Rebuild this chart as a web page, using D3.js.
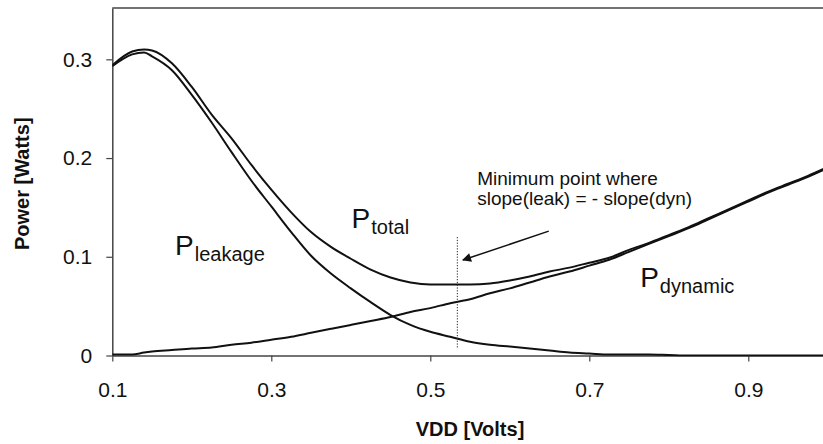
<!DOCTYPE html>
<html>
<head>
<meta charset="utf-8">
<script src="https://cdn.jsdelivr.net/npm/d3@7"></script>
<style>
  html, body { margin: 0; padding: 0; background: #fff; }
  svg { display: block; }
  text { font-family: "Liberation Sans", Arial, sans-serif; fill: #111; }
</style>
</head>
<body>
<svg id="chart" width="823" height="444"></svg>
<script>
// ---- Data ----
const vdd = [0.100,0.125,0.140,0.150,0.175,0.200,0.225,0.250,0.275,0.300,0.325,0.350,0.375,0.400,0.425,0.450,0.475,0.500,0.525,0.550,0.575,0.600,0.625,0.650,0.675,0.700,0.725,0.750,0.775,0.800,0.825,0.850,0.875,0.900,0.925,0.950,0.975,1.000];
const leakage = [0.293,0.305,0.307,0.303,0.289,0.264,0.236,0.206,0.177,0.151,0.125,0.101,0.083,0.068,0.054,0.041,0.031,0.024,0.019,0.014,0.011,0.009,0.007,0.005,0.003,0.002,0.001,0.001,0.001,0.0005,0,0,0,0,0,0,0,0];
const dynamic = [0.001,0.001,0.003,0.004,0.0055,0.007,0.008,0.011,0.013,0.016,0.019,0.023,0.027,0.031,0.035,0.039,0.044,0.048,0.053,0.057,0.063,0.068,0.074,0.080,0.085,0.091,0.097,0.105,0.113,0.121,0.129,0.138,0.147,0.156,0.165,0.173,0.181,0.190];
const total = [0.294,0.308,0.310,0.309,0.296,0.272,0.244,0.220,0.193,0.168,0.145,0.125,0.110,0.098,0.087,0.079,0.074,0.072,0.072,0.072,0.073,0.076,0.080,0.085,0.089,0.094,0.099,0.107,0.114,0.122,0.130,0.139,0.148,0.157,0.166,0.174,0.182,0.191];

const xTicks = [0.1, 0.3, 0.5, 0.7, 0.9];
const xTickLabels = ["0.1", "0.3", "0.5", "0.7", "0.9"];
const yTicks = [0, 0.1, 0.2, 0.3];
const yTickLabels = ["0", "0.1", "0.2", "0.3"];

const xDomain = [0.1, 1.0];
const yDomain = [0, 0.352];
const minVdd = 0.534;   // vertical marker at the minimum point

// ---- Layout ----
const svg = d3.select("#chart");
const x = d3.scaleLinear().domain(xDomain).range([112.3, 827.8]);
const y = d3.scaleLinear().domain(yDomain).range([355.5, 8]);

// frame (top border)
svg.append("line")
  .attr("x1", x(xDomain[0])).attr("x2", x(xDomain[1]))
  .attr("y1", y(yDomain[1])).attr("y2", y(yDomain[1]))
  .attr("stroke", "#444").attr("stroke-width", 1.5);

// axes
const xAxis = d3.axisBottom(x).tickValues(xTicks)
  .tickFormat((d, i) => xTickLabels[i]).tickSize(6).tickSizeOuter(0).tickPadding(21);
const yAxis = d3.axisLeft(y).tickValues(yTicks)
  .tickFormat((d, i) => yTickLabels[i]).tickSize(6).tickSizeOuter(0).tickPadding(14);

const gx = svg.append("g").attr("transform", `translate(0,${y(0)})`).call(xAxis);
const gy = svg.append("g").attr("transform", `translate(${x(xDomain[0])},0)`).call(yAxis);
[gx, gy].forEach(g => {
  g.select(".domain").attr("stroke", "#444").attr("stroke-width", 1.5);
  g.selectAll(".tick line").attr("stroke", "#444").attr("stroke-width", 1.2);
  g.selectAll(".tick text").attr("font-size", 21)
    .attr("font-family", "'Liberation Sans', Arial, sans-serif").attr("fill", "#111");
});

// axis titles
svg.append("text")
  .attr("x", (x.range()[0] + x.range()[1]) / 2).attr("y", 436)
  .attr("text-anchor", "middle").attr("font-size", 20).attr("font-weight", "bold")
  .text("VDD [Volts]");
svg.append("text")
  .attr("transform", `translate(29,${(y.range()[0] + y.range()[1]) / 2 + 2}) rotate(-90)`)
  .attr("text-anchor", "middle").attr("font-size", 20).attr("font-weight", "bold")
  .text("Power [Watts]");

// curves
svg.append("clipPath").attr("id", "plotclip")
  .append("rect").attr("x", x(xDomain[0])).attr("y", y(yDomain[1]))
  .attr("width", x(xDomain[1]) - x(xDomain[0])).attr("height", y(0) - y(yDomain[1]) + 1);

const line = d3.line().x(d => x(d[0])).y(d => y(d[1])).curve(d3.curveMonotoneX);
const series = [leakage, dynamic, total];
svg.append("g").attr("clip-path", "url(#plotclip)")
  .selectAll("path").data(series).join("path")
  .attr("d", s => line(vdd.map((v, i) => [v, s[i]])))
  .attr("fill", "none").attr("stroke", "#111").attr("stroke-width", 2)
  .attr("stroke-linejoin", "round");

// subscript labels
function subLabel(px, py, main, sub) {
  const t = svg.append("text").attr("x", x(px)).attr("y", y(py)).attr("font-size", 28);
  t.append("tspan").text(main);
  t.append("tspan").attr("font-size", 20).attr("dx", 1).attr("dy", 6).text(sub);
}
subLabel(0.179, 0.102, "P", "leakage");
subLabel(0.401, 0.129, "P", "total");
subLabel(0.764, 0.0694, "P", "dynamic");

// annotation text
const ann = svg.append("text").attr("font-size", 19);
ann.append("tspan").attr("x", x(0.559)).attr("y", y(0.1727)).text("Minimum point where");
ann.append("tspan").attr("x", x(0.559)).attr("y", y(0.1525)).text("slope(leak) = - slope(dyn)");

// dotted vertical marker
svg.append("line")
  .attr("x1", x(minVdd)).attr("x2", x(minVdd))
  .attr("y1", y(0.120)).attr("y2", y(0.0065))
  .attr("stroke", "#222").attr("stroke-width", 1).attr("stroke-dasharray", "1.2,1.6");

// arrow
svg.append("defs").append("marker")
  .attr("id", "arrowhead").attr("viewBox", "0 0 10 10")
  .attr("refX", 9).attr("refY", 5).attr("markerWidth", 13).attr("markerHeight", 9)
  .attr("markerUnits", "userSpaceOnUse").attr("orient", "auto")
  .append("path").attr("d", "M0,0 L10,5 L0,10 Z").attr("fill", "#111");
svg.append("line")
  .attr("x1", x(0.649)).attr("y1", y(0.126))
  .attr("x2", x(0.541)).attr("y2", y(0.0967))
  .attr("stroke", "#111").attr("stroke-width", 1.5)
  .attr("marker-end", "url(#arrowhead)");
</script>
</body>
</html>
